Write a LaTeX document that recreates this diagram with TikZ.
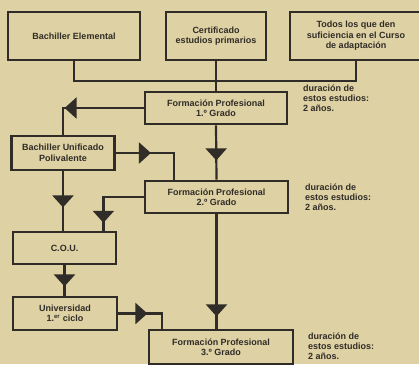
\documentclass[tikz,border=0pt]{standalone}
\usepackage{fontspec}
\setmainfont{Liberation Sans}
\usetikzlibrary{positioning, arrows.meta, decorations.markings, calc}
\definecolor{Paper}{RGB}{222,209,163}
\definecolor{Ink}{RGB}{48,44,40}

\begin{document}
\begin{tikzpicture}[x=1pt, y=-1pt,
    bx/.style={rectangle, draw=Ink, line width=2.8pt, align=center,
               font=\fontsize{9}{10.5}\selectfont\bfseries, text=Ink,
               inner sep=0pt},
    ln/.style={draw=Ink, color=Ink, line width=2.2pt},
    tipat/.style={postaction={decorate}, decoration={markings,
        mark=at position #1 with {\arrow{Triangle[length=12pt, width=21pt]}}}},
    note/.style={anchor=north west, align=left, inner sep=0pt,
                 font=\fontsize{9}{9.6}\selectfont\bfseries, text=Ink}
  ]
  \fill[Paper] (0,0) rectangle (419,364);
  \useasboundingbox (0,0) rectangle (419,364);

  % entry titles
  \node[bx, minimum width=132pt, minimum height=48pt] (bel) at (74,36)
        {Bachiller Elemental};
  \node[bx, minimum width=100pt, minimum height=48pt] (cert) at (216,36)
        {Certificado\\estudios primarios};
  \node[bx, minimum width=132pt, minimum height=48pt] (todos) at (356,36)
        {Todos los que den\\suficiencia en el Curso\\de adaptación};

  % vocational grades
  \node[bx, minimum width=142pt, minimum height=32pt] (fp1) at (216,108)
        {Formación Profesional\\1.º Grado};
  \node[bx, minimum width=143pt, minimum height=32pt] (fp2) at (216.5,197)
        {Formación Profesional\\2.º Grado};
  \node[bx, minimum width=144pt, minimum height=34pt] (fp3) at (221,347)
        {Formación Profesional\\3.º Grado};

  % academic track
  \node[bx, minimum width=103pt, minimum height=34pt] (bup) at (63,153)
        {Bachiller Unificado\\Polivalente};
  \node[bx, minimum width=103pt, minimum height=32pt] (cou) at (64.5,248)
        {C.O.U.};
  \node[bx, minimum width=104pt, minimum height=33pt] (univ) at (65,313.5)
        {Universidad\\1.\textsuperscript{er} ciclo};

  % durations
  \node[note] (d1) at (303,85)  {duración de\\estos estudios:\\2 años.};
  \node[note] (d2) at (305,184) {duración de\\estos estudios:\\2 años.};
  \node[note] (d3) at (308,333) {duración de\\estos estudios:\\2 años.};

  % connectors
  \coordinate (bus) at (216,81);
  \draw[ln] (bel.south) |- (bus) -| (todos.south);
  \draw[ln] (cert.south) -- (fp1.north);
  \draw[ln, tipat=79pt] (fp1.west) -| (bup.north);
  \draw[ln, tipat=35pt] (fp1.south) -- (fp2.north);
  \draw[ln, tipat=35pt] (bup.east) -| ([xshift=30pt]fp2.north west);
  \draw[ln, tipat=36pt] (bup.south) -- (bup.south |- cou.north);
  \draw[ln, tipat=66pt] (fp2.west) -| ([xshift=-14pt]cou.north east);
  \draw[ln, tipat=102pt] (fp2.south) -- (fp2.south |- fp3.north);
  \draw[ln, tipat=21pt] (cou.south) -- (cou.south |- univ.north);
  \draw[ln, tipat=29pt] (univ.east) -| ([xshift=14pt]fp3.north west);
\end{tikzpicture}
\end{document}
